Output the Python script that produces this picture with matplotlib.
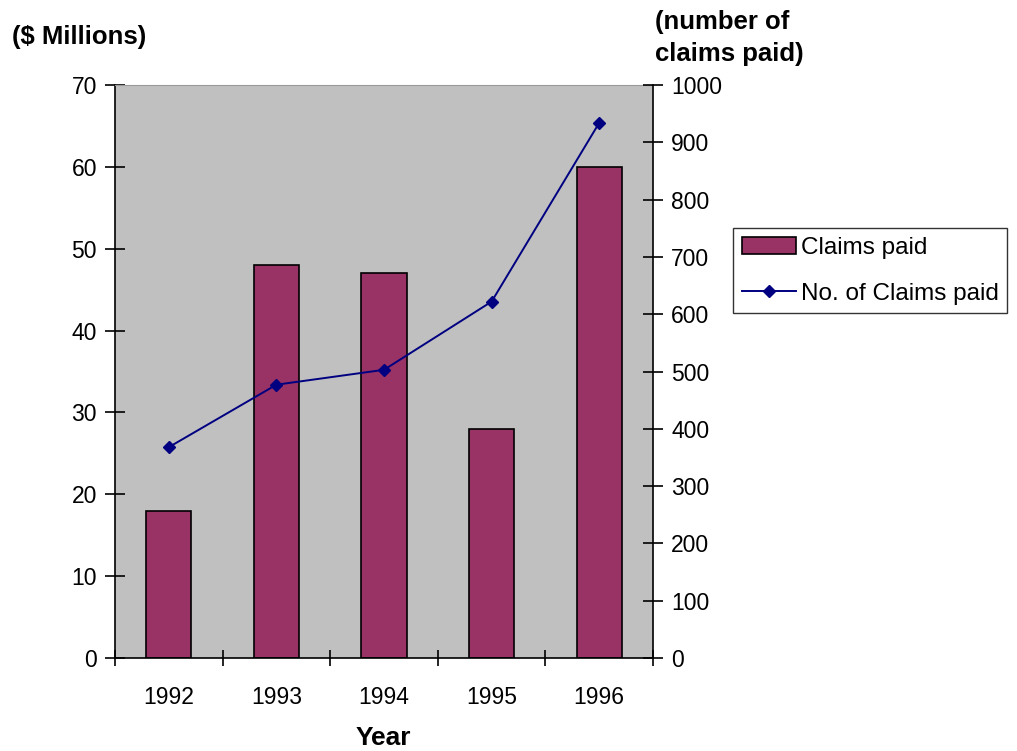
import matplotlib
matplotlib.use('Agg')
import matplotlib.pyplot as plt
import numpy as np
from matplotlib import font_manager

years = ["1992", "1993", "1994", "1995", "1996"]
claims_paid = [18, 48, 47, 28, 60]          # $ millions
num_claims = [368, 477, 503, 622, 934]      # number of claims paid

names = {f.name for f in font_manager.fontManager.ttflist}
narrow = 'Liberation Sans Narrow' if 'Liberation Sans Narrow' in names else 'Liberation Sans'
plt.rcParams['font.family'] = ['Liberation Sans', 'DejaVu Sans']

fig = plt.figure(figsize=(10.17, 7.51), dpi=100)
ax = fig.add_axes([0.1131, 0.1238, 0.529, 0.763])
ax.set_facecolor('#C0C0C0')

x = np.arange(len(years))
bars = ax.bar(x, claims_paid, width=0.42, color='#993366', edgecolor='black',
              linewidth=1.2, label='Claims paid', zorder=2)
ax.set_xlim(-0.5, len(years) - 0.5)
ax.set_ylim(0, 70)
ax.set_yticks(range(0, 71, 10))
ax.set_xticks(x)
ax.set_xticklabels(years)
ax.set_xticks(np.arange(-0.5, len(years), 1), minor=True)
ax.tick_params(axis='x', which='major', length=0, pad=20, labelsize=16.5)
ax.tick_params(axis='x', which='minor', direction='inout', length=12, width=1.2)
ax.tick_params(axis='y', direction='inout', length=14, width=1.2, labelsize=16.5, pad=6)
for s in ['left', 'bottom']:
    ax.spines[s].set_linewidth(1.2)
ax.spines['right'].set_visible(False)
ax.spines['top'].set_color('#999999')

ax2 = ax.twinx()
line, = ax2.plot(x, num_claims, color='#000080', marker='D', markersize=6,
                 linewidth=1.4, label='No. of Claims paid', zorder=3)
ax2.set_ylim(0, 1000)
ax2.set_yticks(range(0, 1001, 100))
ax2.tick_params(axis='y', direction='inout', length=14, width=1.2, labelsize=16.5, pad=6)
ax2.spines['right'].set_linewidth(1.2)
for s in ['left', 'top', 'bottom']:
    ax2.spines[s].set_visible(False)

fig.text(12 / 1017, 1 - 37 / 751, '($ Millions)', fontsize=18.5, fontweight='bold',
         family=narrow, ha='left', va='center')
fig.text(655 / 1017, 1 - 38 / 751, '(number of\nclaims paid)', fontsize=18.5,
         fontweight='bold', family=narrow, ha='left', va='center', linespacing=1.45)
fig.text(383 / 1017, 1 - 738 / 751, 'Year', fontsize=19, fontweight='bold',
         family=narrow, ha='center', va='center')

leg = fig.legend(handles=[bars, line], loc='upper left',
                 bbox_to_anchor=(733 / 1017, 1 - 228 / 751), fontsize=17.5,
                 frameon=True, fancybox=False, edgecolor='black', borderpad=0.35,
                 handlelength=2.25, handletextpad=0.2, labelspacing=1.0,
                 borderaxespad=0)
leg.get_frame().set_linewidth(1.0)

fig.savefig('out.png', dpi=100)
